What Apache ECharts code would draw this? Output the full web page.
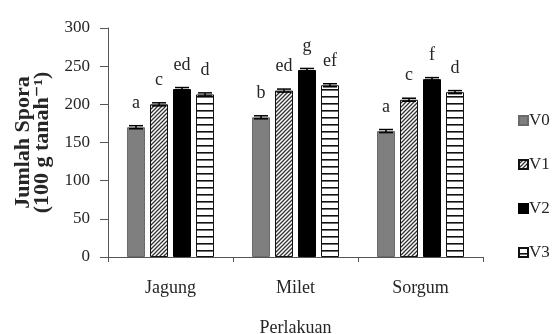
<!DOCTYPE html>
<html>
<head>
<meta charset="utf-8">
<script src="https://cdn.jsdelivr.net/npm/echarts@6/dist/echarts.min.js"></script>
<style>
  html, body { margin: 0; padding: 0; background: #fff; }
  #chart { width: 552px; height: 334px; }
</style>
</head>
<body>
<div id="chart"></div>
<script>
// Spore counts per host plant (Perlakuan) for four treatments V0..V3
const categories = ['Jagung', 'Milet', 'Sorgum'];
const seriesNames = ['V0', 'V1', 'V2', 'V3'];
const valuesV0 = [170, 183, 165];
const valuesV1 = [200, 218, 206];
const valuesV2 = [220, 245, 233];
const valuesV3 = [213, 225, 216];
const errorsV0 = [2, 2, 2];
const errorsV1 = [2, 2, 2];
const errorsV2 = [2, 2, 2];
const errorsV3 = [2, 2, 2];
const lettersV0 = ['a', 'b', 'a'];
const lettersV1 = ['c', 'ed', 'c'];
const lettersV2 = ['ed', 'g', 'f'];
const lettersV3 = ['d', 'ef', 'd'];
const yTicks = [0, 50, 100, 150, 200, 250, 300];

const allValues = [valuesV0, valuesV1, valuesV2, valuesV3];
const allErrors = [errorsV0, errorsV1, errorsV2, errorsV3];
const allLetters = [lettersV0, lettersV1, lettersV2, lettersV3];

const FONT = '"Liberation Serif", "DejaVu Serif", serif';
const TEXT = '#262626';

// fill patterns
function diagonalPattern() {
  const c = document.createElement('canvas');
  c.width = 4; c.height = 4;
  const g = c.getContext('2d');
  g.fillStyle = '#fff'; g.fillRect(0, 0, 4, 4);
  g.strokeStyle = '#333'; g.lineWidth = 1.3;
  g.beginPath();
  g.moveTo(-1, 5); g.lineTo(5, -1);
  g.moveTo(-1, 1); g.lineTo(1, -1);
  g.moveTo(3, 5); g.lineTo(5, 3);
  g.stroke();
  return c;
}
function horizontalPattern() {
  const c = document.createElement('canvas');
  c.width = 8; c.height = 7;
  const g = c.getContext('2d');
  g.fillStyle = '#fff'; g.fillRect(0, 0, 8, 7);
  g.fillStyle = '#111'; g.fillRect(0, 5, 8, 1.6);
  return c;
}

const fills = [
  '#7f7f7f',
  { image: diagonalPattern(), repeat: 'repeat' },
  '#000000',
  { image: horizontalPattern(), repeat: 'repeat' }
];
const borders = ['#6a6a6a', '#111', '#000', '#111'];

const BAR_W = 18;
const BAR_GAP = 5;

const barSeries = seriesNames.map((name, i) => ({
  name: name,
  type: 'bar',
  barWidth: BAR_W,
  barGap: (BAR_GAP / BAR_W * 100) + '%',
  data: allValues[i],
  itemStyle: { color: fills[i], borderColor: borders[i], borderWidth: 1 },
  label: {
    show: true,
    position: 'top',
    distance: 15,
    fontFamily: FONT,
    fontSize: 18,
    color: TEXT,
    formatter: p => allLetters[i][p.dataIndex]
  },
  z: 2
}));

// small error caps on top of each bar
const errorSeries = seriesNames.map((name, i) => ({
  name: name + ' err',
  type: 'custom',
  data: allValues[i].map((v, j) => [j, v, allErrors[i][j]]),
  encode: { x: 0, y: 1 },
  z: 3,
  silent: true,
  renderItem: (params, api) => {
    const cat = api.value(0), v = api.value(1), e = api.value(2);
    const off = (i - 1.5) * (BAR_W + BAR_GAP);
    const hi = api.coord([cat, v + e]);
    const lo = api.coord([cat, v - e]);
    const x = hi[0] + off;
    const half = 7;
    const st = { stroke: '#000', lineWidth: 1.5 };
    return {
      type: 'group',
      children: [
        { type: 'line', shape: { x1: x, y1: hi[1], x2: x, y2: lo[1] }, style: st },
        { type: 'line', shape: { x1: x - half, y1: hi[1], x2: x + half, y2: hi[1] }, style: st },
        { type: 'line', shape: { x1: x - half, y1: lo[1], x2: x + half, y2: lo[1] }, style: st }
      ]
    };
  }
}));

const chart = echarts.init(document.getElementById('chart'), null, { renderer: 'canvas' });
chart.setOption({
  animation: false,
  backgroundColor: '#fff',
  grid: { left: 108, right: 69, top: 28, bottom: 77, containLabel: false, outerBoundsMode: 'none' },
  legend: {
    data: seriesNames,
    orient: 'vertical',
    left: 513,
    top: 107,
    itemWidth: 9,
    itemHeight: 9,
    itemGap: 27,
    icon: 'rect',
    textStyle: { fontFamily: FONT, fontSize: 17, color: TEXT, padding: [0, 0, 0, -4] }
  },
  xAxis: {
    type: 'category',
    data: categories,
    name: 'Perlakuan',
    nameLocation: 'middle',
    nameGap: 62,
    nameTextStyle: { fontFamily: FONT, fontSize: 18, color: TEXT },
    axisLine: { lineStyle: { color: '#555', width: 1 } },
    axisTick: { show: true, length: 5, lineStyle: { color: '#555' } },
    axisLabel: { fontFamily: FONT, fontSize: 18, color: TEXT, margin: 22 }
  },
  yAxis: {
    type: 'value',
    min: yTicks[0],
    max: yTicks[yTicks.length - 1],
    interval: yTicks[1] - yTicks[0],
    name: 'Jumlah Spora\n(100 g tanah\u207B\u00B9)',
    nameLocation: 'middle',
    nameRotate: 90,
    nameGap: 52,
    nameTextStyle: { fontFamily: FONT, fontSize: 22, fontWeight: 'bold', color: TEXT, lineHeight: 19 },
    axisLine: { show: true, lineStyle: { color: '#555', width: 1 } },
    axisTick: { show: true, length: 8, lineStyle: { color: '#555' } },
    splitLine: { show: false },
    axisLabel: { fontFamily: FONT, fontSize: 17, color: TEXT, margin: 18 }
  },
  series: barSeries.concat(errorSeries)
});
</script>
</body>
</html>
